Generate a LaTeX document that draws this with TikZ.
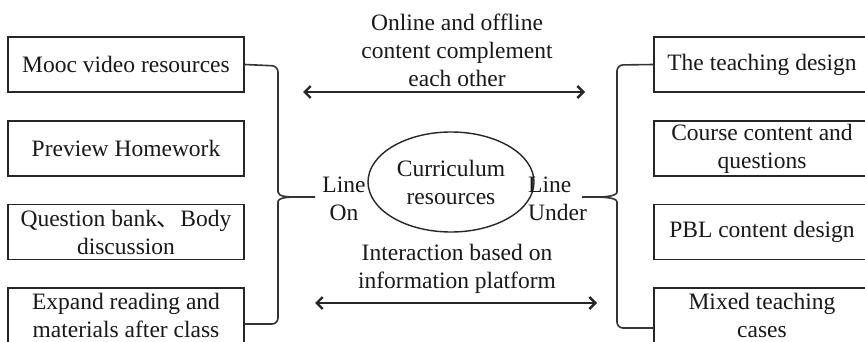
\documentclass[tikz,border=0pt]{standalone}
\usepackage{fontspec}
\setmainfont{Liberation Serif}
\newfontfamily\cjk{Noto Sans CJK SC}
\usetikzlibrary{arrows.meta,shapes.geometric}
\begin{document}
\begin{tikzpicture}[x=1pt,y=-1pt,
  every node/.style={font=\fontsize{23.5}{28}\selectfont, text=black!90},
  box/.style={draw=black!85, line width=1.4pt, minimum height=55pt, align=center, inner sep=0pt},
  lbox/.style={box, minimum width=236pt},
  rbox/.style={box, minimum width=216pt},
  brace/.style={draw=black!80, line width=1.6pt, rounded corners=6pt},
  dbl/.style={draw=black!85, line width=2.4pt, {Straight Barb[length=6pt,width=12pt]}-{Straight Barb[length=6pt,width=12pt]}}
]
\clip (0,0) rectangle (865,342);
\fill[white] (0,0) rectangle (865,342);
% left boxes
\node[lbox] (m1) at (126,64.5) {Mooc video resources};
\node[lbox] (m2) at (126,148.5) {Preview Homework};
\node[lbox] (m3) at (126,232) {Question bank{\cjk 、}Body\\discussion};
\node[lbox] (m4) at (126,315.5) {Expand reading and\\materials after class};
% right boxes
\node[rbox] (r1) at (762,64.5) {The teaching design};
\node[rbox] (r2) at (762,148.5) {Course content and\\questions};
\node[rbox] (r3) at (762,232) {PBL content design};
\node[rbox] (r4) at (762,315.5) {Mixed teaching\\cases};
% center
\node[ellipse, draw=black!85, line width=1.4pt, minimum width=166pt, minimum height=100pt, align=center, inner sep=0pt] (cr) at (451,182) {Curriculum\\resources};
\node[align=center, inner sep=0pt] (on) at (344,199) {Line\\On};
\node[align=left, anchor=west, inner sep=0pt] (under) at (528,199) {Line\\Under};
\node[align=center, inner sep=0pt] (top) at (457,50) {Online and offline\\content complement\\each other};
\node[align=center, inner sep=0pt] (bot) at (457,268.5) {Interaction based on\\information platform};
% braces
\coordinate (ltip) at (300,197);
\coordinate (lend) at (315,197);
\coordinate (rtip) at (590,197);
\coordinate (rend) at (582,197);
\draw[brace] (m1.east) -- (278,66) -- (278,186) .. controls (278,197) and (290,197) .. (ltip) -- (lend);
\draw[brace] (ltip) .. controls (290,197) and (278,197) .. (278,208) -- (278,324) -- (m4.east |- 0,324);
\draw[brace] (r1.west) -- (617,65) -- (617,186) .. controls (617,197) and (600,197) .. (rtip) -- (rend);
\draw[brace] (rtip) .. controls (600,197) and (617,197) .. (617,208) -- (617,328) -- (r4.west |- 0,328);
% arrows
\coordinate (ta) at (303,92);
\coordinate (tb) at (585,92);
\coordinate (ba) at (315,303);
\coordinate (bb) at (597,303);
\draw[dbl] (ta) -- (tb);
\draw[dbl] (ba) -- (bb);
\end{tikzpicture}
\end{document}
